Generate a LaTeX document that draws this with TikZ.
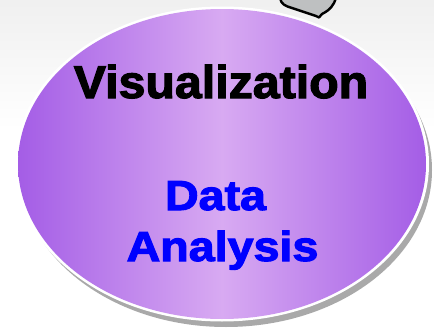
\documentclass[tikz,border=0pt]{standalone}
\usepackage{fontspec}
\newfontfamily\bubblefont[FakeBold=2.5]{Liberation Sans Bold}
\definecolor{bubbleedge}{HTML}{A45DE6}
\definecolor{bubblemid}{HTML}{D8AAF2}
\definecolor{blobgray}{HTML}{BEC0C1}
\definecolor{shadowgray}{HTML}{A9A9A9}
\tikzset{
    bigword/.style={font=\bubblefont\fontsize{46}{50}\selectfont, anchor=base, inner sep=0pt, xscale=1.05},
    blueword/.style={font=\bubblefont\fontsize{42}{46}\selectfont, anchor=base, inner sep=0pt, text=blue, xscale=1.11}
}
\begin{document}
\begin{tikzpicture}[x=1pt, y=-1pt]
    \useasboundingbox (0, 0) rectangle (434, 332);
    \fill[white] (0, 0) rectangle (434, 332);
    \shade[top color=gray!12, bottom color=white] (0, 0) rectangle (434, 130);

    % blob peeking in at the top
    \draw[fill=blobgray, line width=2.4pt, line join=round]
        (280, -2) .. controls (281, 4) and (285, 6) .. (292, 8) -- (316, 16) -- (319, 17.5)
        -- (322, 14) .. controls (330, 10) and (334, 5) .. (336, -2);

    % bubble with shadow
    \fill[shadowgray] (226, 170) ellipse (206 and 157);
    \fill[white] (222, 164) ellipse (207 and 157.5);
    \shade[left color=bubbleedge, right color=bubbleedge, middle color=bubblemid]
        (222, 164) ellipse (204 and 155);

    \node[bigword] (vis) at (221, 98) {Visualization};
    \node[blueword] (data) at (215.5, 210) {Data};
    \node[blueword] (analysis) at (222.5, 261) {Analysis};
\end{tikzpicture}
\end{document}
